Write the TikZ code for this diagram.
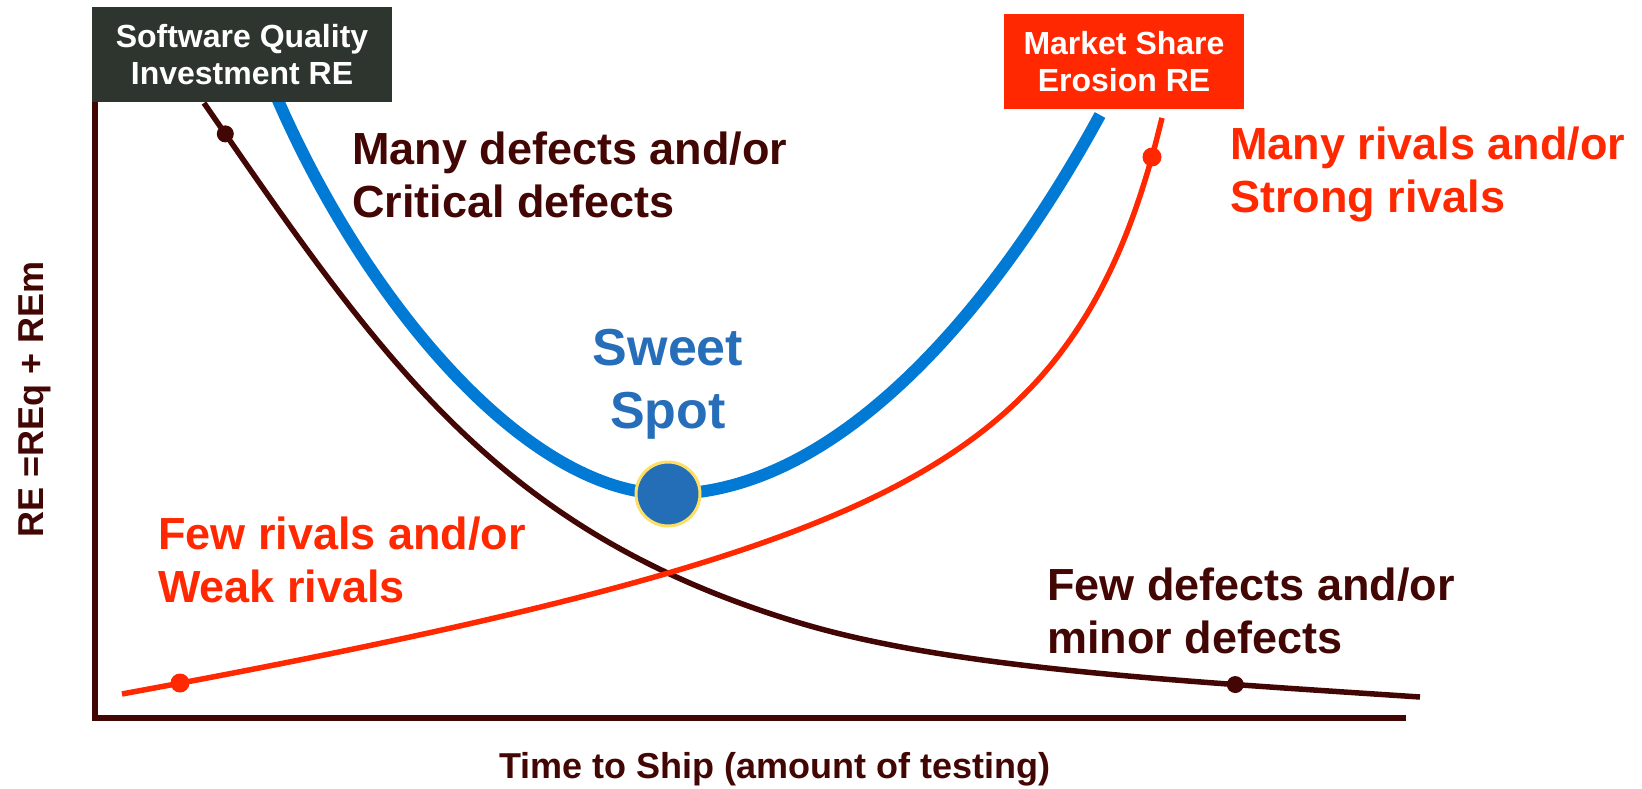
\documentclass[tikz,border=0pt]{standalone}
\usepackage{fontspec}
\setmainfont{Liberation Sans}
\definecolor{dkred}{RGB}{66,6,4}
\definecolor{rvred}{RGB}{255,40,0}
\definecolor{lnblue}{RGB}{0,122,212}
\definecolor{spblue}{RGB}{38,110,185}
\definecolor{dotblue}{RGB}{35,110,182}
\definecolor{ringyel}{RGB}{255,222,100}
\definecolor{boxdark}{RGB}{46,53,46}
\tikzset{
  lbl/.style={inner sep=0pt, anchor=base west, align=left, font=\bfseries\fontsize{45}{53}\selectfont},
  boxlbl/.style={inner sep=0pt, minimum height=95pt, align=center, text=white, font=\bfseries\fontsize{32}{37}\selectfont},
  dkdot/.style={circle, fill=dkred, inner sep=0pt, minimum size=17pt},
  rddot/.style={circle, fill=rvred, inner sep=0pt, minimum size=19pt},
  axislbl/.style={inner sep=0pt, text=dkred, font=\bfseries\fontsize{36}{42}\selectfont}
}
\begin{document}
\begin{tikzpicture}[x=1pt,y=-1pt]
\useasboundingbox (0,0) rectangle (1642,789);
% axes
\coordinate (atop) at (95,100);
\coordinate (aorig) at (95,718);
\coordinate (aend) at (1406,718);
\draw[dkred, line width=6pt] (atop) -- (aorig) -- (aend);
% quality investment curve
\coordinate (q0) at (204,103);
\coordinate (q1) at (800,623);
\coordinate (q2) at (1420,697);
\draw[dkred, line width=5.5pt] (q0) .. controls (384,364) and (500,533) .. node[dkdot, pos=0.04] (dq1) {} (q1)
  .. controls (950,668) and (1170,680.5) .. node[dkdot, pos=0.745] (dq2) {} (q2);
% market share erosion curve
\draw[rvred, line width=5.5pt] plot[domain=122:1162, samples=150, smooth] (\x, {718 - (56.284/((1280-\x)/1000) - 41.9 + 0.142*\x)});
\node[rddot] (dm1) at (180,683) {};
\node[rddot] (dm2) at (1152,157) {};
% total curve
\coordinate (b0) at (277,98);
\coordinate (bmin) at (668,494);
\coordinate (b1) at (1100,115);
\draw[lnblue, line width=12pt] (b0) .. controls (367,305) and (528,494) .. (bmin)
  .. controls (833,494) and (990,317) .. (b1);
\node[circle, fill=dotblue, draw=ringyel, line width=3pt, inner sep=0pt, minimum size=64pt] (sweet) at (bmin) {};
% boxes
\node[boxlbl, fill=boxdark, minimum width=300pt] (sqbox) at (242,54.5) {Software Quality\\Investment RE};
\node[boxlbl, fill=rvred, minimum width=240pt] (msbox) at (1124,61.5) {Market Share\\Erosion RE};
% labels
\node[lbl, text=dkred] (manydef) at (352,217) {Many defects and/or\\Critical defects};
\node[lbl, text=rvred] (manyriv) at (1230,212) {Many rivals and/or\\Strong rivals};
\node[lbl, text=rvred] (fewriv) at (158,602) {Few rivals and/or\\Weak rivals};
\node[lbl, text=dkred] (fewdef) at (1047,653) {Few defects and/or\\minor defects};
\node[inner sep=0pt, anchor=base, align=center, text=spblue, font=\bfseries\fontsize{52}{63}\selectfont] (sweetlbl) at (668,428) {Sweet\\Spot};
\node[axislbl, anchor=base, rotate=90] (ylbl) at (43,399) {RE =REq + REm};
\node[axislbl, anchor=base] (xlbl) at (775,778) {Time to Ship (amount of testing)};
\end{tikzpicture}
\end{document}
